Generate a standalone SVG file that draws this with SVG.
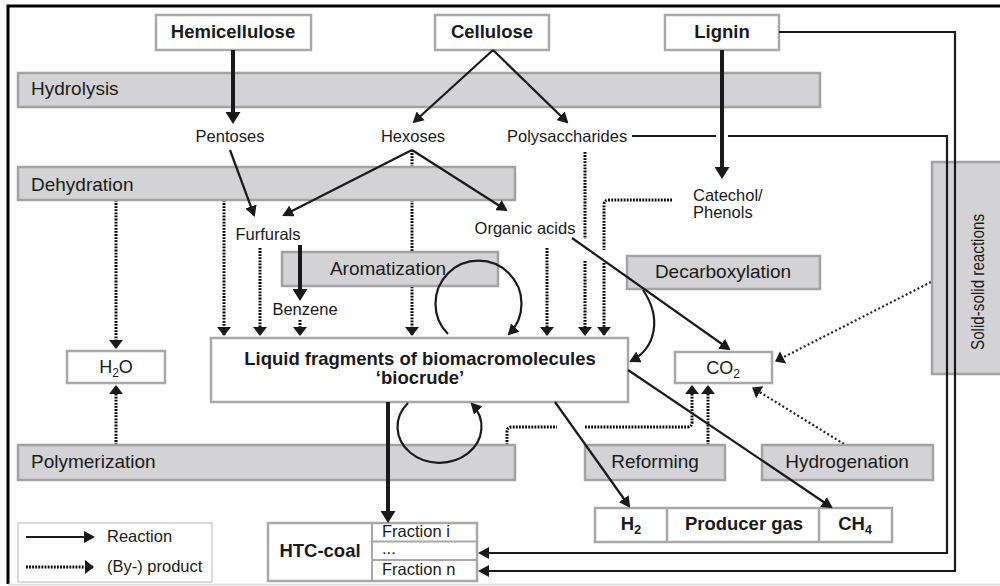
<svg xmlns="http://www.w3.org/2000/svg" width="1000" height="586" viewBox="0 0 1000 586">
<style>
text{font-family:"Liberation Sans",Arial,sans-serif;fill:#1a1a1a}
.node{fill:#fff;stroke:#a8a8a8;stroke-width:2.5}
.bar{fill:#d3d3d5;stroke:#a3a3a3;stroke-width:2.5}
.bold{font-weight:bold;font-size:18.5px}
.barlbl{font-size:19px}
.lbl{font-size:16.5px}
.r{fill:none;stroke:#1a1a1a;stroke-width:2.2}
.rt{fill:none;stroke:#1a1a1a;stroke-width:4}
.d{fill:none;stroke:#000;stroke-width:3;stroke-dasharray:1.8 1.3}
.df{fill:none;stroke:#222;stroke-width:2.2;stroke-dasharray:2 2.4}
.m{text-anchor:middle}
</style>
<defs>
<marker id="a" viewBox="0 0 11 12" refX="9" refY="6" markerWidth="11" markerHeight="12" markerUnits="userSpaceOnUse" orient="auto"><path d="M0,0 L11,6 L0,12 z" fill="#1a1a1a"/></marker>
<marker id="at" viewBox="0 0 12 15" refX="8" refY="7.5" markerWidth="12" markerHeight="15" markerUnits="userSpaceOnUse" orient="auto"><path d="M0,0 L12,7.5 L0,15 z" fill="#1a1a1a"/></marker>
<marker id="ad" viewBox="0 0 9 14" refX="8" refY="7" markerWidth="9" markerHeight="14" markerUnits="userSpaceOnUse" orient="auto"><path d="M0,0 L9,7 L0,14 z" fill="#1a1a1a"/></marker>
</defs>
<rect width="1000" height="586" fill="#fff"/>
<g id="frame">
<path d="M8,584 V6 H1000" fill="none" stroke="#000" stroke-width="3"/>
<path d="M8,584.5 H1000" fill="none" stroke="#ddd" stroke-width="1.5"/>
</g>
<g id="connectors-byproduct">
<path class="d" d="M116,200 V348" marker-end="url(#ad)"/>
<path class="d" d="M224,200 V335" marker-end="url(#ad)"/>
<path class="d" d="M260,248 V335" marker-end="url(#ad)"/>
<path class="d" d="M300,320 V335" marker-end="url(#ad)"/>
<path class="d" d="M412,150 V335" marker-end="url(#ad)"/>
<path class="d" d="M547,248 V335" marker-end="url(#ad)"/>
<path class="d" d="M585,152 V239"/>
<path class="d" d="M585,261 V335" marker-end="url(#ad)"/>
<path class="d" d="M672,200 H609 Q604,200 604,205 V250"/>
<path class="d" d="M604,263 V335" marker-end="url(#ad)"/>
<path class="d" d="M116,445 V386" marker-end="url(#ad)"/>
<path class="d" d="M507,445 V432 Q507,427 512,427 H557"/>
<path class="d" d="M585,427 H687 Q692,427 692,422 V386" marker-end="url(#ad)"/>
<path class="d" d="M708,445 V386" marker-end="url(#ad)"/>
<path class="df" d="M931,282 L776,361" marker-end="url(#ad)"/>
<path class="df" d="M844,444 L753,388" marker-end="url(#ad)"/>
</g>
<g id="hemicellulose"><rect class="node" x="156" y="15" width="155" height="35"/><text class="bold m" x="233" y="38">Hemicellulose</text></g>
<g id="cellulose"><rect class="node" x="435" y="15" width="114" height="35"/><text class="bold m" x="492" y="38">Cellulose</text></g>
<g id="lignin"><rect class="node" x="665" y="15" width="114" height="35"/><text class="bold m" x="722" y="38">Lignin</text></g>
<g id="hydrolysis"><rect class="bar" x="18" y="73" width="802" height="34"/><text class="barlbl" x="31" y="95">Hydrolysis</text></g>
<g id="dehydration"><rect class="bar" x="18" y="167" width="497" height="33"/><text class="barlbl" x="31" y="191">Dehydration</text></g>
<g id="aromatization"><rect class="bar" x="282" y="252" width="216" height="34"/><text class="barlbl m" x="388" y="275">Aromatization</text></g>
<g id="decarboxylation"><rect class="bar" x="627" y="256" width="193" height="33"/><text class="barlbl m" x="723" y="278">Decarboxylation</text></g>
<g id="polymerization"><rect class="bar" x="18" y="445" width="497" height="35"/><text class="barlbl" x="31" y="468">Polymerization</text></g>
<g id="reforming"><rect class="bar" x="585" y="445" width="140" height="35"/><text class="barlbl m" x="655" y="468">Reforming</text></g>
<g id="hydrogenation"><rect class="bar" x="762" y="445" width="171" height="35"/><text class="barlbl m" x="847" y="468">Hydrogenation</text></g>
<g id="solid-solid"><rect class="bar" x="932" y="162" width="80" height="212"/><text class="m" font-size="19" transform="translate(984,282) rotate(-90)" textLength="136" lengthAdjust="spacingAndGlyphs">Solid-solid reactions</text></g>
<g id="pentoses"><text class="lbl m" x="230" y="142">Pentoses</text></g>
<g id="hexoses"><text class="lbl m" x="413" y="142">Hexoses</text></g>
<g id="polysaccharides"><text class="lbl" x="507" y="142">Polysaccharides</text></g>
<g id="catechol"><text class="lbl" x="693" y="201" font-size="16">Catechol/</text><text class="lbl" x="693" y="218" font-size="16">Phenols</text></g>
<g id="furfurals"><text class="lbl m" x="268" y="240">Furfurals</text></g>
<g id="organic-acids"><text class="lbl m" x="525" y="234">Organic acids</text></g>
<g id="benzene"><text class="lbl m" x="305" y="315">Benzene</text></g>
<g id="biocrude"><rect class="node" x="211" y="338" width="417" height="64"/><text class="m" x="420" y="365" font-size="18.5" font-weight="bold">Liquid fragments of biomacromolecules</text><text class="m" x="420" y="384" font-size="18.5" font-weight="bold">‘biocrude’</text></g>
<g id="h2o"><rect class="node" x="67" y="351" width="98" height="32"/><text class="m" x="116" y="373" font-size="18">H<tspan font-size="12" dy="4">2</tspan><tspan dy="-4">O</tspan></text></g>
<g id="co2"><rect class="node" x="675" y="352" width="97" height="31"/><text class="m" x="723" y="374" font-size="18">CO<tspan font-size="12" dy="4">2</tspan></text></g>
<g id="gas">
<rect class="node" x="595" y="508" width="297" height="34"/>
<path d="M667,508 V542 M819,508 V542" stroke="#a8a8a8" stroke-width="2.5"/>
<text class="bold m" x="631" y="530">H<tspan font-size="12.5" dy="4">2</tspan></text>
<text class="bold m" x="744" y="530">Producer gas</text>
<text class="bold m" x="855" y="530">CH<tspan font-size="12.5" dy="4">4</tspan></text>
</g>
<g id="htc-coal">
<rect class="node" x="268" y="523" width="209" height="58"/>
<path d="M372,523 V581 M372,541.5 H477 M372,560 H477" stroke="#a8a8a8" stroke-width="2"/>
<text class="bold m" x="320" y="557">HTC-coal</text>
<text class="lbl" x="382" y="537" font-size="16">Fraction i</text>
<text class="lbl" x="382" y="554" font-size="16">...</text>
<text class="lbl" x="382" y="575" font-size="16">Fraction n</text>
</g>
<g id="legend">
<rect x="18" y="523" width="194" height="59" fill="#fff" stroke="#cfcfcf" stroke-width="1.5"/>
<path class="r" d="M26,537 H93" marker-end="url(#a)"/>
<path class="d" d="M26,567 H93" marker-end="url(#ad)"/>
<text class="lbl" x="107" y="542">Reaction</text>
<text class="lbl" x="107" y="572">(By-) product</text>
</g>
<g id="connectors-reaction">
<path class="rt" d="M233,50 V120" marker-end="url(#at)"/>
<path class="r" d="M493,50 L414,122" marker-end="url(#a)"/>
<path class="r" d="M493,50 L567,122" marker-end="url(#a)"/>
<path class="rt" d="M722,50 V175" marker-end="url(#at)"/>
<path class="r" stroke-width="2.8" d="M779,32 H955 V571 H480" marker-end="url(#a)"/>
<path class="r" stroke-width="2.8" d="M632,136 H716"/>
<path class="r" stroke-width="2.8" d="M728,136 H947 V553 H480" marker-end="url(#a)"/>
<path class="r" d="M230,150 L254,215" marker-end="url(#a)"/>
<path class="r" d="M412,150 L284,215" marker-end="url(#a)"/>
<path class="r" d="M412,150 L506,210" marker-end="url(#a)"/>
<path class="rt" d="M300,245 V297" marker-end="url(#at)"/>
<path class="r" d="M572,238 L729,349" marker-end="url(#a)"/>
<path class="rt" d="M388,402 V519" marker-end="url(#at)"/>
<path class="r" d="M555,402 L629,506" marker-end="url(#a)"/>
<path class="r" d="M628,370 L831,507" marker-end="url(#a)"/>
<path class="r" d="M448,334 A43,43 0 1 1 509,334" marker-end="url(#a)"/>
<path class="r" d="M408,403 A42,36 0 1 0 472,404" marker-end="url(#a)"/>
<path class="r" d="M643,290 C662,318 656,348 631,361" marker-end="url(#a)"/>
</g>
</svg>
